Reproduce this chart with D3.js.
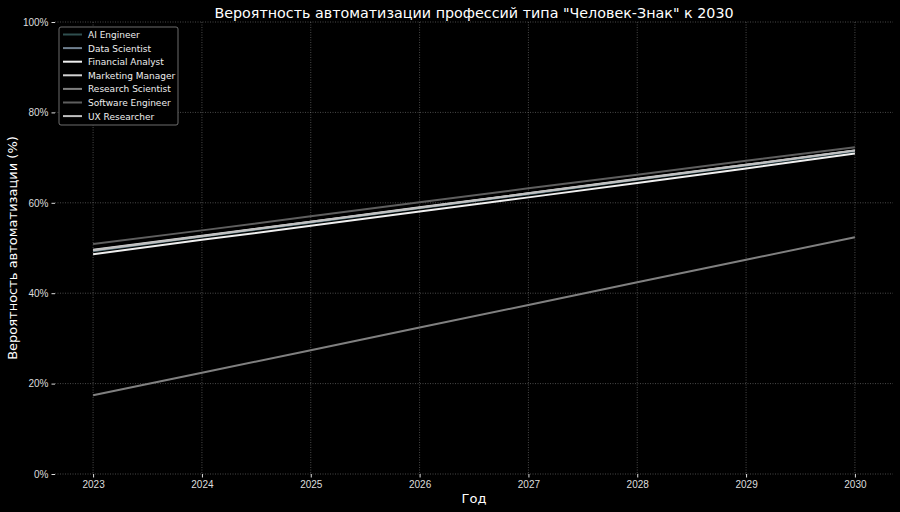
<!DOCTYPE html>
<html lang="ru">
  <head>
    <meta charset="UTF-8" />
    <title>Вероятность автоматизации</title>
    <script src="https://d3js.org/d3.v7.min.js"></script>
    <style>
      body { margin: 0; background: #000; }
      svg { display: block; font-family: "DejaVu Sans", sans-serif; }
      .grid line { stroke: #999; stroke-opacity: 0.6; stroke-dasharray: 1 1.5; stroke-width: 0.8; }
      .tick text { fill: #ddd; font-size: 10px; }
      .tick line { stroke: #ddd; }
      .domain { display: none; }
    </style>
  </head>
  <body>
    <svg width="900" height="512"></svg>
    <script>
      const years = [2023, 2024, 2025, 2026, 2027, 2028, 2029, 2030];
      const professions = ["AI Engineer", "Data Scientist", "Financial Analyst", "Marketing Manager",
        "Research Scientist", "Software Engineer", "UX Researcher"];
      const colors = ["#2f4f4f", "#708090", "#f0f0f0", "#d3d3d3", "#808080", "#5e5e5e", "#c0c0c0"];
      const aiEngineer = [49.3, 52.5, 55.6, 58.8, 61.9, 65.1, 68.2, 71.4];
      const dataScientist = [49.4, 52.6, 55.7, 58.9, 62.0, 65.2, 68.3, 71.5];
      const financialAnalyst = [48.6, 51.8, 54.9, 58.1, 61.2, 64.4, 67.6, 70.9];
      const marketingManager = [49.6, 52.7, 55.8, 59.0, 62.1, 65.3, 68.4, 71.6];
      const researchScientist = [17.4, 22.4, 27.4, 32.4, 37.4, 42.4, 47.4, 52.4];
      const softwareEngineer = [50.9, 53.9, 57.0, 60.1, 63.2, 66.2, 69.3, 72.3];
      const uxResearcher = [49.5, 52.6, 55.8, 58.9, 62.1, 65.2, 68.4, 71.6];
      const seriesValues = [aiEngineer, dataScientist, financialAnalyst, marketingManager,
        researchScientist, softwareEngineer, uxResearcher];
      const yTicks = [0, 20, 40, 60, 80, 100];

      const width = 900, height = 512;
      const margin = { top: 22, right: 7, bottom: 38, left: 55 };
      const svg = d3.select("svg");

      const x = d3.scaleLinear()
        .domain([2023 - 0.35, 2030 + 0.35])
        .range([margin.left, width - margin.right]);
      const y = d3.scaleLinear()
        .domain([0, 100])
        .range([height - margin.bottom, margin.top]);

      // grid
      svg.append("g").attr("class", "grid")
        .selectAll("line").data(years).enter().append("line")
        .attr("x1", d => x(d)).attr("x2", d => x(d))
        .attr("y1", margin.top).attr("y2", height - margin.bottom);
      svg.append("g").attr("class", "grid")
        .selectAll("line").data(yTicks).enter().append("line")
        .attr("x1", margin.left).attr("x2", width - margin.right)
        .attr("y1", d => y(d)).attr("y2", d => y(d));

      svg.append("g")
        .attr("transform", "translate(0," + (height - margin.bottom) + ")")
        .call(d3.axisBottom(x).tickValues(years).tickFormat(d3.format("d")).tickSize(3.5).tickPadding(3));
      svg.append("g")
        .attr("transform", "translate(" + margin.left + ",0)")
        .call(d3.axisLeft(y).tickValues(yTicks).tickFormat(d => d + "%").tickSize(3.5).tickPadding(3));

      const line = d3.line()
        .x((d, i) => x(years[i]))
        .y(d => y(d));

      svg.append("g").selectAll("path").data(seriesValues).enter().append("path")
        .attr("d", d => line(d))
        .attr("fill", "none")
        .attr("stroke", (d, i) => colors[i])
        .attr("stroke-width", 2);

      // titles
      svg.append("text")
        .attr("x", 474).attr("y", 18)
        .attr("text-anchor", "middle")
        .attr("fill", "#fff").attr("font-size", 14.3)
        .text('Вероятность автоматизации профессий типа "Человек-Знак" к 2030');
      svg.append("text")
        .attr("x", 474).attr("y", 503)
        .attr("text-anchor", "middle")
        .attr("fill", "#fff").attr("font-size", 13)
        .text("Год");
      svg.append("text")
        .attr("transform", "translate(17," + y(50) + ") rotate(-90)")
        .attr("text-anchor", "middle")
        .attr("fill", "#fff").attr("font-size", 13)
        .text("Вероятность автоматизации (%)");

      // legend
      const legend = svg.append("g").attr("transform", "translate(59,27)");
      legend.append("rect")
        .attr("width", 119).attr("height", 98).attr("rx", 2)
        .attr("fill", "#000").attr("stroke", "#888").attr("stroke-width", 0.8);
      const items = legend.selectAll(".item").data(professions).enter().append("g")
        .attr("class", "item")
        .attr("transform", (d, i) => "translate(0," + (7.5 + i * 13.6) + ")");
      items.append("line")
        .attr("x1", 4).attr("x2", 23)
        .attr("stroke", (d, i) => colors[i]).attr("stroke-width", 2);
      items.append("text")
        .attr("x", 29).attr("y", 3.5)
        .attr("fill", "#eee").attr("font-size", 9)
        .text(d => d);
    </script>
  </body>
</html>
